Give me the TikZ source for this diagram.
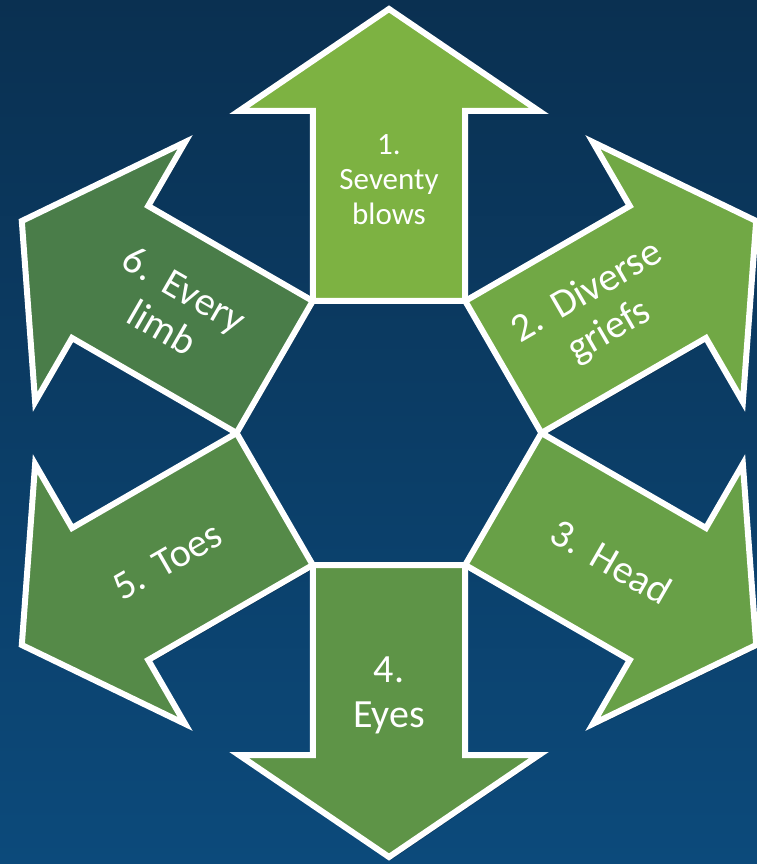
\documentclass[tikz,border=0pt]{standalone}
\usepackage{fontspec}
\setmainfont{Carlito}
\definecolor{bgtop}{HTML}{0A3051}
\definecolor{bgbot}{HTML}{0C4A7B}
\definecolor{aone}{HTML}{7DB242}
\definecolor{atwo}{HTML}{71A845}
\definecolor{athree}{HTML}{68A047}
\definecolor{afour}{HTML}{5E9447}
\definecolor{afive}{HTML}{558A48}
\definecolor{asix}{HTML}{4A7D49}
\begin{document}
\begin{tikzpicture}[x=1pt,y=1pt,
  arrowshape/.style={draw=white, line width=6pt, line join=miter, miter limit=10},
  shadowshape/.style={fill=black, opacity=0.25},
  lbl/.style={text=white, align=center, inner sep=0pt, font=\fontsize{40}{45}\selectfont}]
\fill[top color=bgtop, bottom color=bgbot] (-389,-431) rectangle (368,433);
\useasboundingbox (-389,-431) rectangle (368,433);
\foreach \ang/\col in {90/aone, 30/atwo, -30/athree, -90/afour, -150/afive, 150/asix} {
  \begin{scope}[shift={(2,-3)}, rotate=\ang-90]
    \fill[shadowshape] (-76.2,132) -- (-76.2,322) -- (-150,322) -- (0,424) -- (150,322) -- (76.2,322) -- (76.2,132) -- cycle;
  \end{scope}
}
\foreach \ang/\col in {90/aone, 30/atwo, -30/athree, -90/afour, -150/afive, 150/asix} {
  \begin{scope}[rotate=\ang-90]
    \filldraw[arrowshape, fill=\col] (-76.2,132) -- (-76.2,322) -- (-150,322) -- (0,424) -- (150,322) -- (76.2,322) -- (76.2,132) -- cycle;
  \end{scope}
}
\node[lbl, font=\fontsize{31}{35}\selectfont] (t1) at (90:253) {1.\\Seventy\\blows};
\node[lbl, rotate=30] (t2) at (30:242) {2.\hspace{0.1em} Diverse\\griefs};
\node[lbl, rotate=-30] (t3) at (-30:257) {3.\hspace{0.1em} Head};
\node[lbl] (t4) at (-90:262) {4.\\Eyes};
\node[lbl, rotate=30] (t5) at (-150:256) {5.\hspace{0.1em} Toes};
\node[lbl, rotate=-30] (t6) at (150:249) {6.\hspace{0.1em} Every\\limb};
\end{tikzpicture}
\end{document}
